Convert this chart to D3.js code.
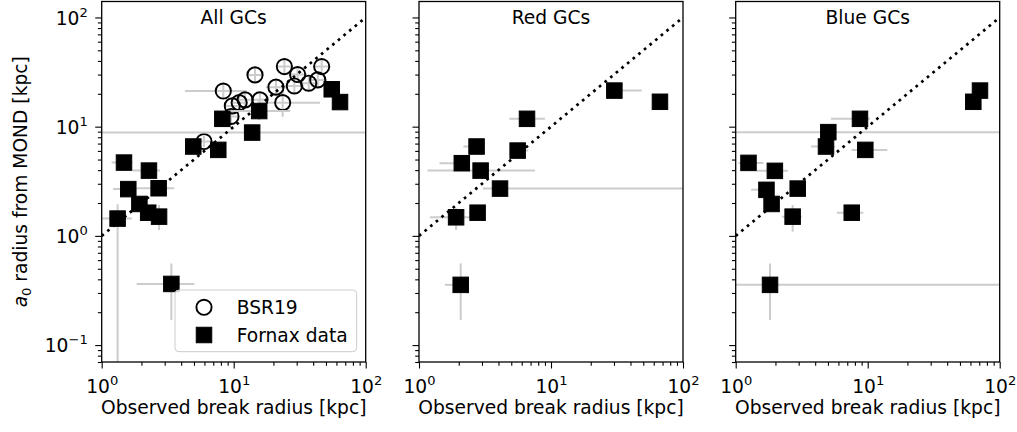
<!DOCTYPE html>
<html>
<head>
<meta charset="utf-8">
<script src="https://cdn.jsdelivr.net/npm/d3@7"></script>
<style>
  body { margin: 0; background: #fff; }
  text { font-family: "DejaVu Sans", sans-serif; fill: #000; }
</style>
</head>
<body>
<svg id="chart" width="1017" height="432"></svg>
<script>
// panel titles and tick labels
const panelTitles = ["All GCs", "Red GCs", "Blue GCs"];
const xTickValues = [1, 10, 100];
const yTickValues = [0.1, 1, 10, 100];
const xAxisTitle = "Observed break radius [kpc]";
const legendLabels = ["BSR19", "Fornax data"];

// rows: [x, y, xLow, xHigh, yLow, yHigh]  (error bar ends, in kpc)
const bsr19All = [
  [5.96, 7.31, 5.2, 6.8, 6.5, 8.2],
  [8.34, 21.2, 4.27, 12.5, 18, 25],
  [9.76, 15.5, 8.5, 11.2, 13, 18],
  [9.54, 12.4, 8.3, 11, 10.5, 14.5],
  [11.0, 16.6, 9.5, 12.7, 14, 19.5],
  [12.2, 17.6, 10.5, 14, 15, 20.5],
  [14.5, 29.8, 12.5, 16.8, 25, 35],
  [15.8, 17.6, 13.5, 18.5, 15, 20.5],
  [20.9, 23.0, 17.5, 25, 19.5, 27],
  [23.5, 16.6, 15, 45, 12.3, 23.3],
  [24.2, 35.5, 21, 28, 30, 42],
  [30.5, 30.0, 26, 36, 25.5, 35],
  [28.8, 23.6, 24.5, 34, 20, 28],
  [37.0, 25.0, 31, 44, 21, 29.5],
  [43.3, 26.8, 37, 51, 22.5, 32],
  [46.4, 35.5, 40, 54, 30, 42]
];

const fornaxAll = [
  [1.32, 1.44, 1.01, 1.69, 0.001, 1.95],
  [1.475, 4.69, 1.19, 1.71, 4.69, 4.69],
  [2.28, 3.96, 1.71, 2.77, 3.96, 3.96],
  [1.59, 2.68, 1.22, 1.84, 2.68, 2.68],
  [2.70, 2.73, 1.84, 3.55, 2.73, 2.73],
  [1.93, 1.96, 1.75, 2.1, 1.96, 1.96],
  [2.25, 1.63, 2.1, 2.4, 1.63, 1.63],
  [2.72, 1.50, 2.4, 3.0, 1.13, 1.92],
  [3.37, 0.363, 1.84, 5.03, 0.17, 0.56],
  [4.94, 6.58, 4.3, 5.6, 6.58, 6.58],
  [7.64, 6.13, 7.0, 8.3, 5.4, 7.0],
  [8.2, 11.8, 7.4, 9.0, 11.8, 11.8],
  [13.8, 8.83, 0.5, 300, 8.83, 8.83],
  [15.6, 13.9, 9.9, 26.8, 11.5, 17],
  [55.3, 22.0, 48, 62, 22.0, 22.0],
  [63.9, 16.8, 63.9, 63.9, 16.8, 16.8]
];

const fornaxRed = [
  [30.2, 21.4, 26.3, 48.7, 21.4, 21.4],
  [66.9, 16.9, 66.9, 66.9, 16.9, 16.9],
  [6.58, 11.8, 4.83, 9.0, 11.8, 11.8],
  [2.73, 6.58, 2.17, 3.16, 6.58, 6.58],
  [5.59, 6.04, 4.9, 6.7, 6.04, 6.04],
  [2.11, 4.63, 1.43, 2.43, 4.63, 4.63],
  [2.93, 3.96, 1.16, 7.56, 3.96, 3.96],
  [4.11, 2.71, 3.04, 300, 2.71, 2.71],
  [1.91, 1.48, 1.21, 2.43, 1.13, 1.79],
  [2.78, 1.63, 2.4, 3.1, 1.63, 1.63],
  [2.07, 0.356, 1.57, 2.16, 0.17, 0.56]
];

const fornaxBlue = [
  [70.9, 21.4, 70.9, 70.9, 21.4, 21.4],
  [63.1, 16.9, 63.1, 63.1, 16.9, 16.9],
  [8.74, 11.8, 5.27, 10.4, 11.8, 11.8],
  [5.03, 8.91, 0.5, 300, 8.91, 8.91],
  [4.83, 6.58, 3.72, 5.65, 6.58, 6.58],
  [9.59, 6.13, 7.55, 14.1, 6.13, 6.13],
  [1.25, 4.66, 1.05, 1.62, 4.66, 4.66],
  [1.98, 3.94, 1.44, 2.48, 3.94, 3.94],
  [1.71, 2.64, 1.31, 1.98, 2.64, 2.64],
  [2.95, 2.71, 2.6, 3.3, 2.71, 2.71],
  [1.87, 1.96, 1.87, 1.87, 1.96, 1.96],
  [2.70, 1.50, 2.25, 3.16, 1.09, 1.92],
  [7.57, 1.63, 5.83, 9.26, 1.5, 1.78],
  [1.82, 0.356, 0.5, 300, 0.17, 0.56]
];

// the 1:1 line
const oneToOne = [1, 100];

const panels = [
  { title: panelTitles[0], circles: bsr19All, squares: fornaxAll, left: 101.7, legend: true },
  { title: panelTitles[1], circles: [], squares: fornaxRed, left: 419, legend: false },
  { title: panelTitles[2], circles: [], squares: fornaxBlue, left: 735.7, legend: false }
];

const svg = d3.select("#chart");
const topY = 1.5, plotW = 264, plotH = 360.5;
const fontSize = 18.67;
const barColor = "#cccccc";
const sq = 15.5, circR = 7.6;

const x = d3.scaleLog().domain([1, 100]).range([0, plotW]);
const y = d3.scaleLog().domain([0.07, 140]).range([plotH, 0]);

// writes 10^k as mathtext-ish tspans
function powerLabel(sel, v) {
  const k = Math.round(Math.log10(v));
  sel.append("tspan").text("10");
  sel.append("tspan")
    .attr("font-size", fontSize * 0.7)
    .attr("dy", -fontSize * 0.42)
    .text(k < 0 ? "\u2212" + Math.abs(k) : k);
}

const xMinor = x.ticks().filter(v => !xTickValues.includes(v));
const yMinor = y.ticks().filter(v => !yTickValues.includes(v));

panels.forEach((p, i) => {
  const g = svg.append("g").attr("transform", `translate(${p.left},${topY})`);

  g.append("clipPath").attr("id", "clip" + i)
    .append("rect").attr("width", plotW).attr("height", plotH);

  const plot = g.append("g").attr("clip-path", `url(#clip${i})`);

  // error bars then markers, one series at a time
  function drawBars(rows) {
    const bars = plot.append("g").attr("stroke", barColor).attr("stroke-width", 2);
    rows.forEach(r => {
      if (r[2] !== r[3]) {
        bars.append("line")
          .attr("x1", x(r[2])).attr("x2", x(r[3]))
          .attr("y1", y(r[1])).attr("y2", y(r[1]));
      }
      if (r[4] !== r[5]) {
        bars.append("line")
          .attr("x1", x(r[0])).attr("x2", x(r[0]))
          .attr("y1", y(r[4])).attr("y2", y(r[5]));
      }
    });
  }

  drawBars(p.circles);
  plot.append("g").selectAll("circle").data(p.circles).join("circle")
    .attr("cx", d => x(d[0])).attr("cy", d => y(d[1]))
    .attr("r", circR)
    .attr("fill", "none").attr("stroke", "#000").attr("stroke-width", 1.9);

  drawBars(p.squares);
  plot.append("g").selectAll("rect").data(p.squares).join("rect")
    .attr("x", d => x(d[0]) - sq / 2).attr("y", d => y(d[1]) - sq / 2)
    .attr("width", sq).attr("height", sq)
    .attr("fill", "#000").attr("stroke", "#000").attr("stroke-width", 1);

  // dotted 1:1 line
  plot.append("line")
    .attr("x1", x(oneToOne[0])).attr("y1", y(oneToOne[0]))
    .attr("x2", x(oneToOne[1])).attr("y2", y(oneToOne[1]))
    .attr("stroke", "#000").attr("stroke-width", 2.7)
    .attr("stroke-dasharray", "2.7 4.6");

  // axes
  const xMaj = g.append("g").attr("transform", `translate(0,${plotH})`)
    .call(d3.axisBottom(x).tickValues(xTickValues).tickSize(6.5).tickSizeOuter(0).tickFormat(""));
  g.append("g").attr("transform", `translate(0,${plotH})`)
    .call(d3.axisBottom(x).tickValues(xMinor).tickSize(3.8).tickSizeOuter(0).tickFormat(""));
  const yMaj = g.append("g")
    .call(d3.axisLeft(y).tickValues(yTickValues).tickSize(6.5).tickSizeOuter(0).tickFormat(""));
  g.append("g")
    .call(d3.axisLeft(y).tickValues(yMinor).tickSize(3.8).tickSizeOuter(0).tickFormat(""));

  g.selectAll(".domain").remove();
  g.selectAll(".tick text").remove();
  g.selectAll(".tick line").attr("stroke", "#000").attr("stroke-width", 1.1);

  xMaj.selectAll(".tick").append("text")
    .attr("y", 30.5).attr("text-anchor", "middle")
    .attr("font-size", fontSize)
    .each(function (d) { powerLabel(d3.select(this), d); });

  if (i === 0) {
    yMaj.selectAll(".tick").append("text")
      .attr("x", -14).attr("y", 6.7).attr("text-anchor", "end")
      .attr("font-size", fontSize)
      .each(function (d) { powerLabel(d3.select(this), d); });
  }

  // frame
  g.append("rect").attr("width", plotW).attr("height", plotH)
    .attr("fill", "none").attr("stroke", "#000").attr("stroke-width", 1.3);

  // title & x label
  g.append("text").attr("x", plotW / 2).attr("y", 24 - topY)
    .attr("text-anchor", "middle").attr("font-size", fontSize).text(p.title);
  g.append("text").attr("x", plotW / 2).attr("y", 414 - topY)
    .attr("text-anchor", "middle").attr("font-size", fontSize).text(xAxisTitle);

  if (p.legend) {
    const lg = g.append("g").attr("transform", `translate(${175 - p.left},${290 - topY})`);
    lg.append("rect").attr("width", 181.7).attr("height", 61.7).attr("rx", 4)
      .attr("fill", "#fff").attr("fill-opacity", 0.8)
      .attr("stroke", "#cccccc").attr("stroke-width", 1);
    lg.append("circle").attr("cx", 29).attr("cy", 17.3).attr("r", circR)
      .attr("fill", "none").attr("stroke", "#000").attr("stroke-width", 1.9);
    lg.append("rect").attr("x", 29 - sq / 2).attr("y", 45 - sq / 2).attr("width", sq).attr("height", sq)
      .attr("fill", "#000").attr("stroke", "#000").attr("stroke-width", 1);
    lg.append("text").attr("x", 61.7).attr("y", 23.5).attr("font-size", fontSize).text(legendLabels[0]);
    lg.append("text").attr("x", 61.7).attr("y", 51.7).attr("font-size", fontSize).text(legendLabels[1]);
  }
});

// y axis label: a_0 radius from MOND [kpc]
const yl = svg.append("text")
  .attr("transform", `translate(27,${topY + plotH / 2}) rotate(-90)`)
  .attr("text-anchor", "middle").attr("font-size", fontSize);
yl.append("tspan").attr("font-style", "italic").text("a");
yl.append("tspan").attr("font-size", fontSize * 0.7).attr("dy", fontSize * 0.2).text("0");
yl.append("tspan").attr("dy", -fontSize * 0.2).text(" radius from MOND [kpc]");
</script>
</body>
</html>
